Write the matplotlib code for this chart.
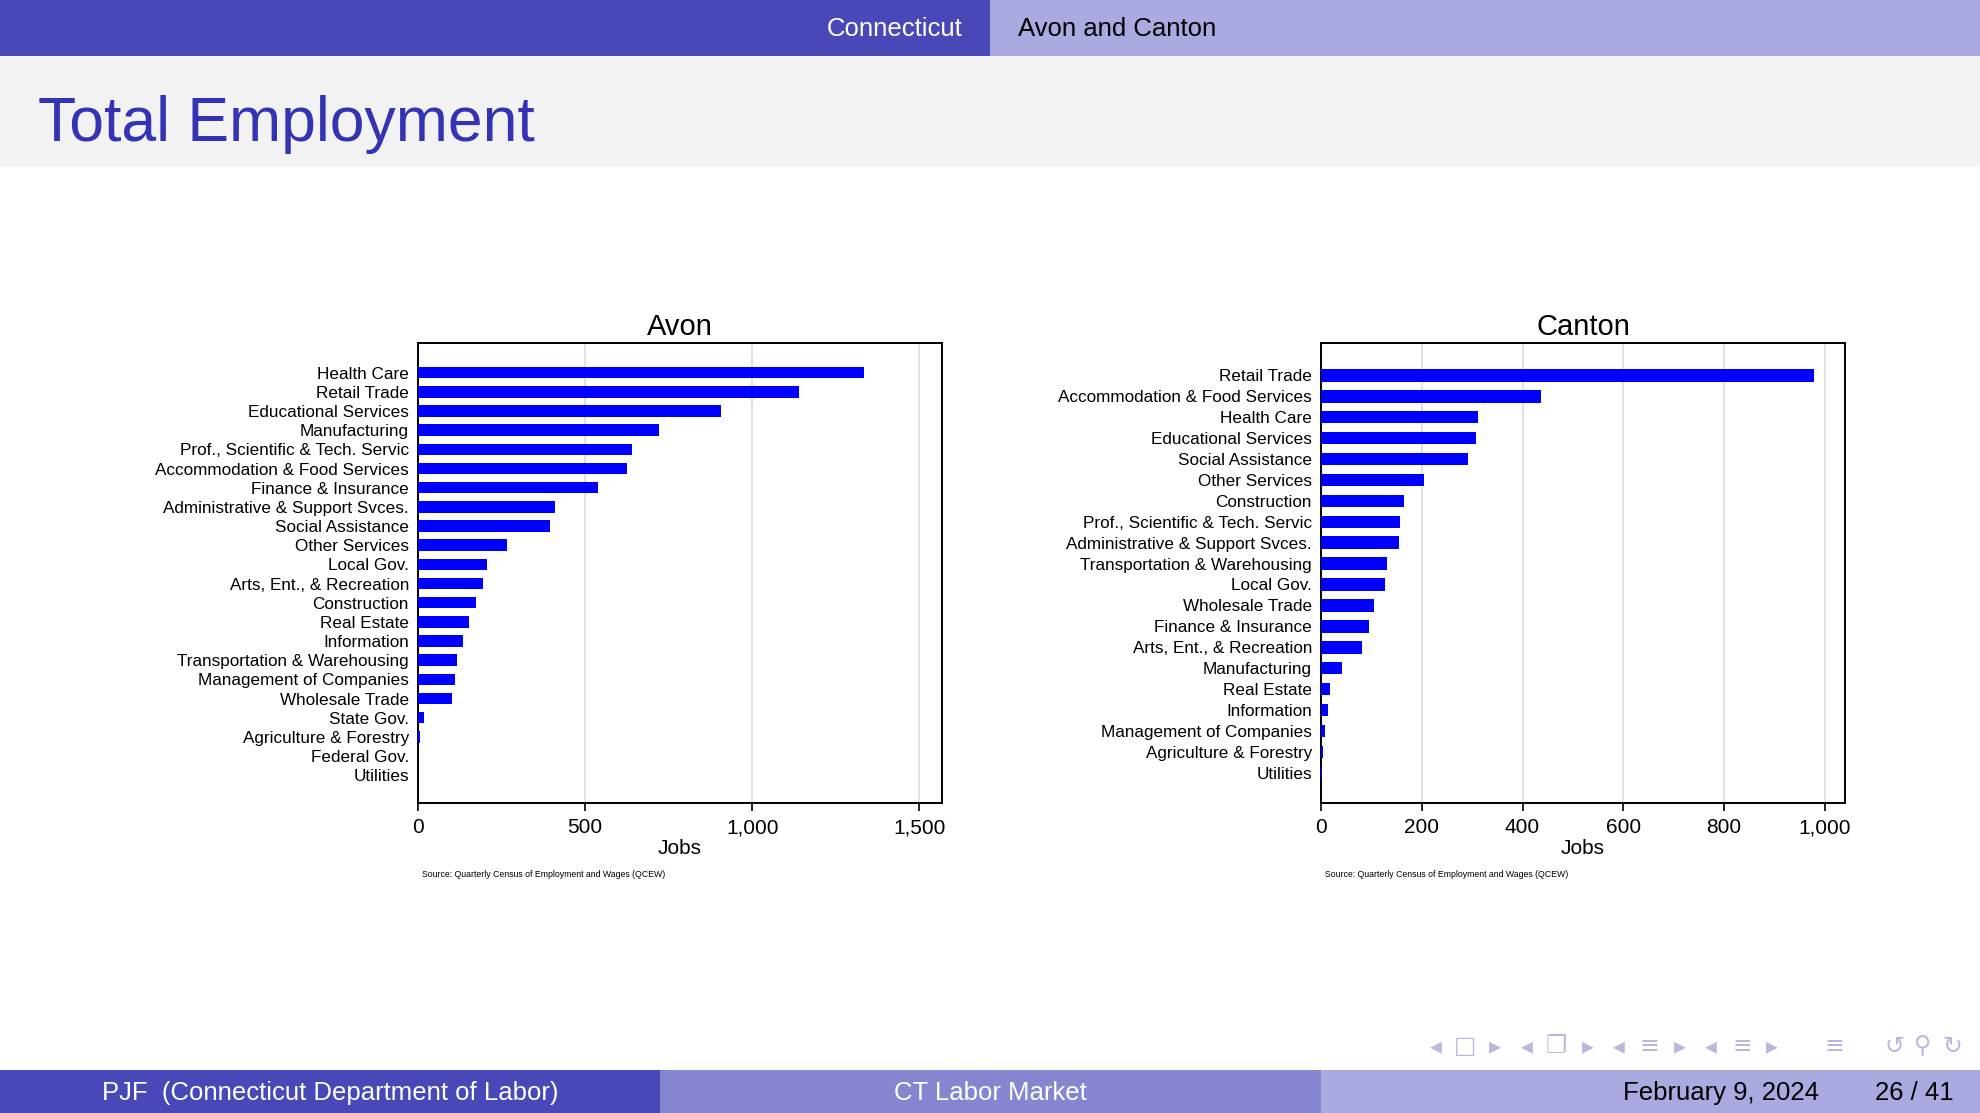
import matplotlib
matplotlib.use("Agg")
import matplotlib.pyplot as plt
from matplotlib.patches import Rectangle

plt.rcParams['font.family'] = ['Liberation Sans', 'DejaVu Sans']

# --- data ---
avon_labels = ["Health Care", "Retail Trade", "Educational Services", "Manufacturing",
               "Prof., Scientific & Tech. Servic", "Accommodation & Food Services",
               "Finance & Insurance", "Administrative & Support Svces.", "Social Assistance",
               "Other Services", "Local Gov.", "Arts, Ent., & Recreation", "Construction",
               "Real Estate", "Information", "Transportation & Warehousing",
               "Management of Companies", "Wholesale Trade", "State Gov.",
               "Agriculture & Forestry", "Federal Gov.", "Utilities"]
avon_jobs = [1336, 1141, 908, 720, 639, 625, 538, 409, 394, 266, 205, 194, 173,
             152, 136, 117, 111, 102, 17, 5, 1, 0]
avon_ticks = [0, 500, 1000, 1500]

canton_labels = ["Retail Trade", "Accommodation & Food Services", "Health Care",
                 "Educational Services", "Social Assistance", "Other Services",
                 "Construction", "Prof., Scientific & Tech. Servic",
                 "Administrative & Support Svces.", "Transportation & Warehousing",
                 "Local Gov.", "Wholesale Trade", "Finance & Insurance",
                 "Arts, Ent., & Recreation", "Manufacturing", "Real Estate",
                 "Information", "Management of Companies", "Agriculture & Forestry",
                 "Utilities"]
canton_jobs = [979, 437, 312, 308, 292, 205, 165, 156, 154, 130, 128, 105, 96, 81,
               41, 18, 14, 8, 4, 1]
canton_ticks = [0, 200, 400, 600, 800, 1000]

W, H = 1980, 1113
DARK = "#4848b8"
MID = "#8585d0"
LIGHT = "#aaaae0"
TITLE = "#3333b3"

fig = plt.figure(figsize=(W / 100, H / 100), dpi=100)

# slide frame drawn in pixel coords
bg = fig.add_axes([0, 0, 1, 1])
bg.set_xlim(0, W)
bg.set_ylim(H, 0)
bg.axis("off")

bg.add_patch(Rectangle((0, 0), 990, 56, color=DARK, lw=0))
bg.add_patch(Rectangle((990, 0), W - 990, 56, color=LIGHT, lw=0))
bg.text(962, 29.5, "Connecticut", color="white", fontsize=18.5, ha="right", va="center")
bg.text(1018, 29.5, "Avon and Canton", color="black", fontsize=18.5, ha="left", va="center")

bg.add_patch(Rectangle((0, 56), W, 111, color="#f2f2f2", lw=0))
bg.text(38, 124, "Total Employment", color=TITLE, fontsize=45, ha="left", va="center")

bg.add_patch(Rectangle((0, 1070), 660, 43, color=DARK, lw=0))
bg.add_patch(Rectangle((660, 1070), 661, 43, color=MID, lw=0))
bg.add_patch(Rectangle((1321, 1070), W - 1321, 43, color=LIGHT, lw=0))
bg.text(330, 1093, "PJF  (Connecticut Department of Labor)", color="white",
        fontsize=18.5, ha="center", va="center")
bg.text(990, 1093, "CT Labor Market", color="white", fontsize=18.5, ha="center", va="center")
bg.text(1819, 1093, "February 9, 2024", color="black", fontsize=18.5, ha="right", va="center")
bg.text(1914, 1093, "26 / 41", color="black", fontsize=18.5, ha="center", va="center")

# beamer navigation symbols
nav = [(1436, "◂"), (1465, "□"), (1495, "▸"), (1527, "◂"), (1556, "❐"), (1588, "▸"),
       (1619, "◂"), (1649, "≡"), (1680, "▸"), (1711, "◂"), (1742, "≡"), (1772, "▸"),
       (1834, "≡"), (1894, "↺"), (1923, "⚲"), (1952, "↻")]
for x, s in nav:
    bg.text(x, 1046, s, color="#b8b8dc", fontsize=17, ha="center", va="center",
            family=["DejaVu Sans"])


def draw_panel(rect, name, labels, jobs, ticks, xmax):
    ax = fig.add_axes(rect)
    pos = list(range(len(labels)))
    ax.barh(pos, jobs, height=0.6, color="#0000ff", zorder=3)
    ax.set_ylim(len(labels) - 1 + 1.45, -1.55)
    ax.set_xlim(0, xmax)
    ax.set_yticks(pos)
    ax.set_yticklabels(labels, fontsize=12.3)
    ax.tick_params(axis="y", length=0, pad=6.5)
    ax.set_xticks(ticks)
    ax.set_xticklabels([f"{t:,}" for t in ticks], fontsize=15)
    ax.tick_params(axis="x", length=6, width=1.2, pad=5)
    ax.grid(axis="x", color="#d9d9d9", lw=1.1, zorder=0)
    for sp in ax.spines.values():
        sp.set_linewidth(1.4)
    ax.set_title(name, fontsize=21, pad=5.5)
    ax.set_xlabel("Jobs", fontsize=15, labelpad=1)
    ax.text(0.008, -0.155, "Source: Quarterly Census of Employment and Wages (QCEW)",
            transform=ax.transAxes, fontsize=6.3, ha="left", va="center")
    return ax


draw_panel([418 / W, 1 - 803 / H, 524 / W, 460 / H], "Avon",
           avon_labels, avon_jobs, avon_ticks, 1568)
draw_panel([1321 / W, 1 - 803 / H, 524 / W, 460 / H], "Canton",
           canton_labels, canton_jobs, canton_ticks, 1040)

fig.savefig("out.png", dpi=100)
